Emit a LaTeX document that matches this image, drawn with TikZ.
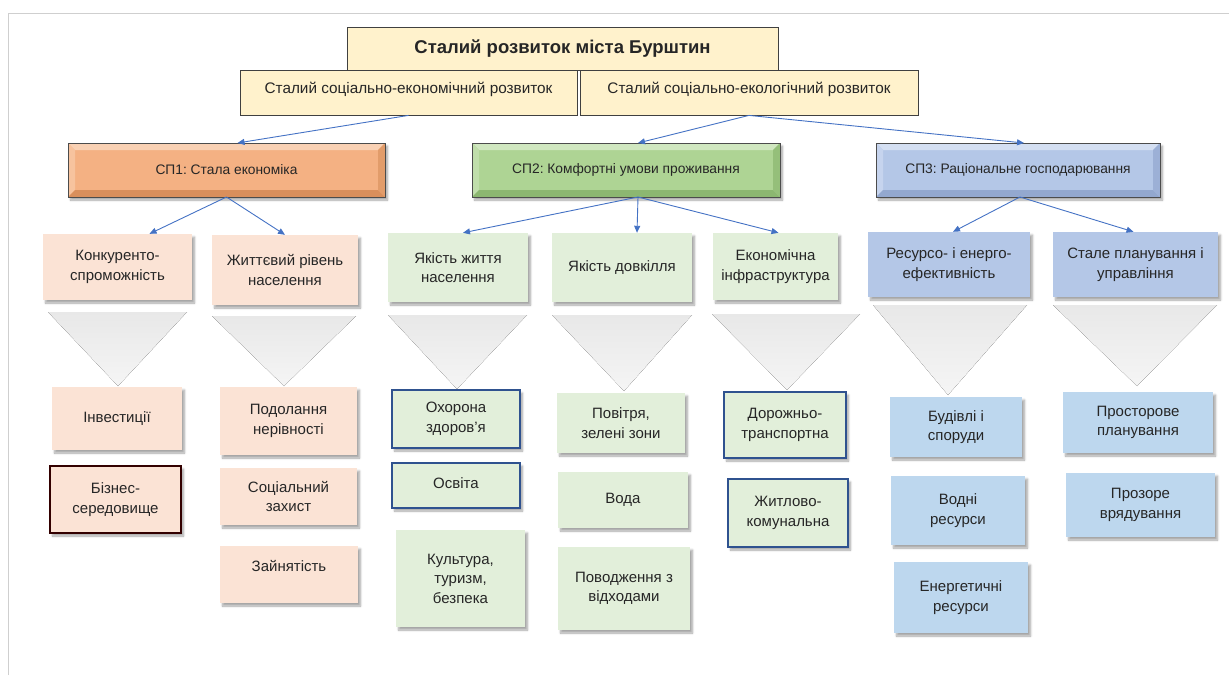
\documentclass[tikz,border=0pt]{standalone}
\usepackage{fontspec}
\setmainfont{Liberation Sans}
\usetikzlibrary{shadows,shadows.blur,arrows.meta,calc}
\frenchspacing

\definecolor{cream}{HTML}{FFF2CC}
\definecolor{peach}{HTML}{FBE3D5}
\definecolor{mint}{HTML}{E2EFDA}
\definecolor{skyA}{HTML}{B4C7E7}
\definecolor{skyB}{HTML}{BDD7EE}
\definecolor{linkblue}{HTML}{4472C4}
\definecolor{edgeblue}{HTML}{2F528F}
\definecolor{framegray}{HTML}{CFCFCF}
\definecolor{orangeM}{HTML}{F4B183}
\definecolor{orangeL}{HTML}{F9D1B4}
\definecolor{orangeS}{HTML}{F7C39E}
\definecolor{orangeD}{HTML}{D98F5C}
\definecolor{orangeR}{HTML}{E29C6A}
\definecolor{greenM}{HTML}{AED494}
\definecolor{greenL}{HTML}{D0E7C0}
\definecolor{greenS}{HTML}{C0DEAB}
\definecolor{greenD}{HTML}{8CB771}
\definecolor{greenR}{HTML}{95BF7A}
\definecolor{blueM}{HTML}{B4C7E7}
\definecolor{blueL}{HTML}{D4DFF2}
\definecolor{blueS}{HTML}{C6D4EE}
\definecolor{blueD}{HTML}{93A8CF}
\definecolor{blueR}{HTML}{9CB0D6}

% box by its corners: style, name, x1, y1, x2, y2, text
\newcommand\mkbox[7]{\node[#1, minimum width={#5-#3}, minimum height={#6-#4}]
  (#2) at ({(#3+#5)/2},{(#4+#6)/2}) {#7};}

% bevelled rim of a node: name, top, left, bottom, right colours
\newcommand\rim[5]{%
  \fill[#2] (#1.north west) -- (#1.north east) -- ($(#1.north east)+(-7,7)$) -- ($(#1.north west)+(7,7)$) -- cycle;
  \fill[#3] (#1.north west) -- ($(#1.north west)+(7,7)$) -- ($(#1.south west)+(7,-7)$) -- (#1.south west) -- cycle;
  \fill[#4] (#1.south west) -- ($(#1.south west)+(7,-7)$) -- ($(#1.south east)+(-7,-7)$) -- (#1.south east) -- cycle;
  \fill[#5] (#1.north east) -- (#1.south east) -- ($(#1.south east)+(-7,-7)$) -- ($(#1.north east)+(-7,7)$) -- cycle;
  \draw[black!70, line width=0.8pt] (#1.north west) rectangle (#1.south east);}

% text raised inside its box without changing the box
\newcommand\up[2]{\raisebox{#1}[\height][\depth]{#2}}

\begin{document}
\begin{tikzpicture}[x=1pt,y=-1pt,
  base/.style={rectangle, inner sep=2pt, align=center, text=black!85,
    font=\fontsize{15}{19.5}\selectfont},
  soft/.style={blur shadow={shadow xshift=2.5pt, shadow yshift=-3pt,
    shadow blur steps=6, shadow opacity=35}},
  headbox/.style={base, fill=cream, draw=black!75, line width=0.8pt},
  sidebox/.style={base, fill=cream, draw=black!75, line width=0.8pt,
    font=\fontsize{15.3}{18}\selectfont},
  spbox/.style={base, soft, outer sep=0pt, font=\fontsize{13.8}{17}\selectfont},
  pbox/.style={base, fill=peach, soft},
  gbox/.style={base, fill=mint, soft},
  bbox/.style={base, fill=skyA, soft},
  lbox/.style={base, fill=skyB, soft},
  darkedge/.style={draw=black!80!red, line width=1.2pt},
  blueedge/.style={draw=edgeblue, line width=1.1pt},
  link/.style={draw=linkblue, line width=0.9pt,
    -{Triangle[length=7pt,width=6pt]}},
  funnel/.style={top color=black!9, bottom color=black!4, draw=none},
]
\useasboundingbox (0,0) rectangle (1229,675);

% page frame
\draw[framegray, line width=1pt] (8,675) -- (8,13) -- (1229,13);

% funnels between second- and third-level boxes
\fill[funnel] (48,312) -- (187,312) -- (118,386) -- cycle;
\fill[funnel] (212,316) -- (356,316) -- (284,386) -- cycle;
\fill[funnel] (388,315) -- (527,315) -- (457,389) -- cycle;
\fill[funnel] (552,315) -- (692,315) -- (624,391) -- cycle;
\fill[funnel] (712,314) -- (860,314) -- (787,390) -- cycle;
\fill[funnel] (873,305) -- (1027,305) -- (948,395) -- cycle;
\fill[funnel] (1053,305) -- (1217,305) -- (1137,386) -- cycle;

% top of the hierarchy
\mkbox{headbox, font=\fontsize{18.5}{22}\selectfont\bfseries}{top}{347}{27}{778}{70}{Сталий розвиток міста Бурштин}
\mkbox{sidebox}{secon}{240}{70}{577}{115}{\up{3pt}{Сталий соціально-економічний розвиток}}
\mkbox{sidebox}{secol}{580}{70}{918}{115}{\up{3pt}{Сталий соціально-екологічний розвиток}}

% strategic priorities
\mkbox{spbox, fill=orangeM}{sp1}{68}{143}{385}{197}{СП1: Стала економіка}
\mkbox{spbox, fill=greenM}{sp2}{472}{143}{780}{197}{СП2: Комфортні умови проживання}
\mkbox{spbox, fill=blueM}{sp3}{876}{143}{1160}{197}{СП3: Раціональне господарювання}
\rim{sp1}{orangeL}{orangeS}{orangeD}{orangeR}
\rim{sp2}{greenL}{greenS}{greenD}{greenR}
\rim{sp3}{blueL}{blueS}{blueD}{blueR}

% operational goals
\mkbox{pbox}{konk}{43}{234}{192}{300}{Конкуренто-\\спроможність}
\mkbox{pbox}{zhytt}{212}{235}{358}{305}{Життєвий рівень\\населення}
\mkbox{gbox}{yakzh}{388}{233}{528}{302}{Якість життя\\населення}
\mkbox{gbox}{yakdov}{552}{233}{692}{302}{Якість довкілля}
\mkbox{gbox}{ekinf}{713}{233}{838}{300}{Економічна\\інфраструктура}
\mkbox{bbox}{resen}{868}{232}{1030}{297}{Ресурсо- і енерго-\\ефективність}
\mkbox{bbox}{stpl}{1053}{232}{1218}{297}{Стале планування і\\управління}

% tasks
\mkbox{pbox}{inv}{52}{387}{182}{450}{Інвестиції}
\mkbox{pbox, darkedge}{biz}{50}{466}{181}{533}{Бізнес-\\середовище}
\mkbox{pbox}{podol}{220}{387}{357}{455}{Подолання\\нерівності}
\mkbox{pbox}{sots}{220}{468}{357}{525}{Соціальний\\захист}
\mkbox{pbox}{zain}{220}{546}{358}{603}{\up{9pt}{Зайнятість}}
\mkbox{gbox, blueedge}{okh}{392}{390}{520}{448}{Охорона\\здоров’я}
\mkbox{gbox, blueedge}{osv}{392}{463}{520}{508}{\up{2pt}{Освіта}}
\mkbox{gbox}{kult}{396}{530}{525}{627}{Культура,\\туризм,\\безпека}
\mkbox{gbox}{pov}{557}{393}{685}{453}{Повітря,\\зелені зони}
\mkbox{gbox}{voda}{558}{472}{688}{528}{Вода}
\mkbox{gbox}{vidkh}{558}{547}{690}{630}{Поводження з\\відходами}
\mkbox{gbox, blueedge}{dor}{724}{392}{846}{458}{Дорожньо-\\транспортна}
\mkbox{gbox, blueedge}{zhk}{728}{479}{848}{547}{Житлово-\\комунальна}
\mkbox{lbox}{bud}{890}{397}{1022}{457}{Будівлі і\\споруди}
\mkbox{lbox}{vodres}{891}{476}{1025}{545}{Водні\\ресурси}
\mkbox{lbox}{energ}{894}{562}{1028}{633}{Енергетичні\\ресурси}
\mkbox{lbox}{prost}{1063}{392}{1213}{453}{Просторове\\планування}
\mkbox{lbox}{prozor}{1066}{473}{1215}{537}{Прозоре\\врядування}

% connectors
\draw[link] (secon.south) -- ($(sp1.north)+(11,0)$);
\draw[link] (secol.south) -- ($(sp2.north)+(12,0)$);
\draw[link] (secol.south) -- ($(sp3.north)+(6,0)$);
\draw[link] (sp1.south) -- ($(konk.north)+(32,0)$);
\draw[link] (sp1.south) -- ($(zhytt.north)+(0,0)$);
\coordinate (sp2o) at ($(sp2.south)+(12,0)$);
\draw[link] (sp2o) -- ($(yakzh.north)+(5,0)$);
\draw[link] (sp2o) -- ($(yakdov.north)+(15,0)$);
\draw[link] (sp2o) -- ($(ekinf.north)+(3,0)$);
\coordinate (sp3o) at ($(sp3.south)+(2,0)$);
\draw[link] (sp3o) -- ($(resen.north)+(4,0)$);
\draw[link] (sp3o) -- ($(stpl.north)+(-2,0)$);
\end{tikzpicture}
\end{document}
